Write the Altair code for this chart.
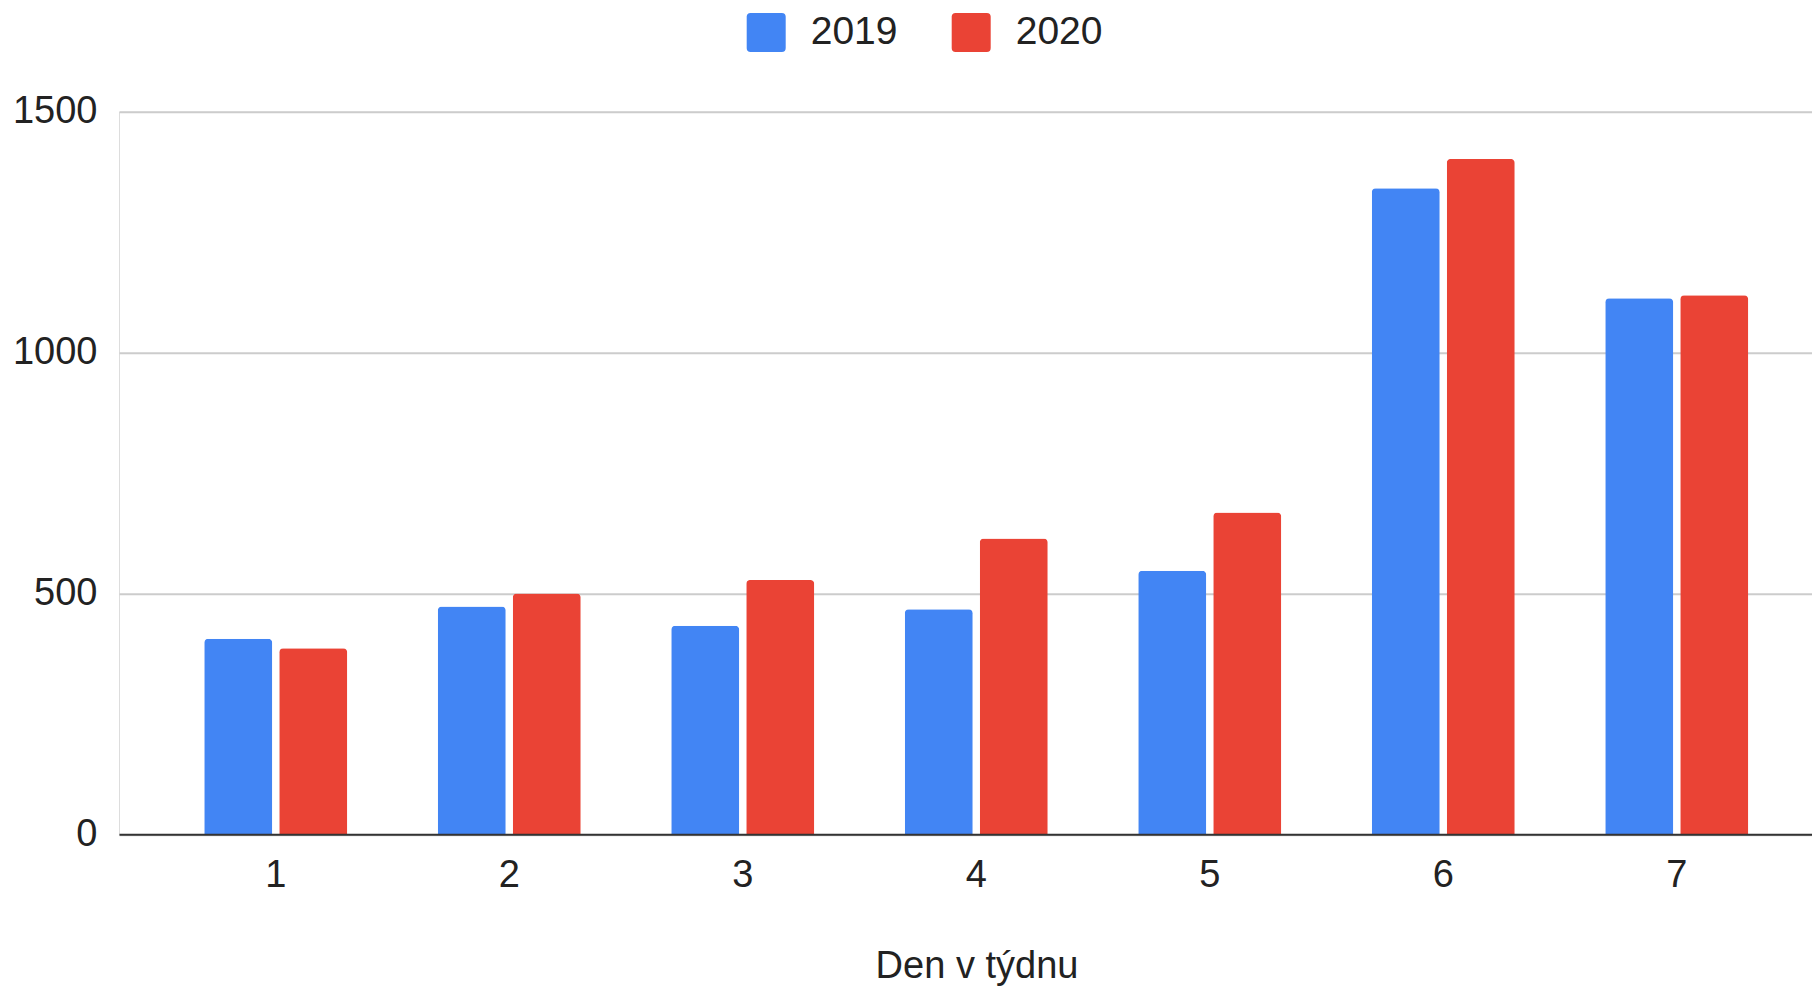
import altair as alt
import pandas as pd

days = ["1", "2", "3", "4", "5", "6", "7"]
years = ["2019", "2020"]
values_2019 = [406, 473, 433, 467, 547, 1341, 1113]
values_2020 = [386, 500, 528, 614, 668, 1402, 1119]
y_ticks = [0, 500, 1000, 1500]
colors = ["#4285F4", "#EA4335"]

rows = []
for d, a, b in zip(days, values_2019, values_2020):
    rows.append({"day": d, "year": "2019", "value": a})
    rows.append({"day": d, "year": "2020", "value": b})
df = pd.DataFrame(rows)

FONT = "Liberation Sans"
TXT = "#222222"
W = 1693
H = 722.6

rounded_square = ("M -1,-0.8 Q -1,-1 -0.8,-1 L 0.8,-1 Q 1,-1 1,-0.8 L 1,0.8 "
                  "Q 1,1 0.8,1 L -0.8,1 Q -1,1 -1,0.8 Z")

chart = alt.Chart(df).mark_bar(
    cornerRadiusTopLeft=4, cornerRadiusTopRight=4
).encode(
    x=alt.X("day:N", sort=days,
            scale=alt.Scale(paddingInner=0.38758, paddingOuter=0.31904, align=0.572),
            axis=alt.Axis(title="Den v týdnu", labelAngle=0, ticks=False, tickSize=0,
                          labelPadding=22, labelFontSize=38, labelColor=TXT, labelFont=FONT,
                          domainColor="#333333", domainWidth=2, grid=False,
                          titleFontSize=38, titleFont=FONT, titleColor=TXT,
                          titleFontWeight="normal", titleX=857.5, titleY=143.5,
                          titleAlign="center", titleBaseline="alphabetic", zindex=1)),
    xOffset=alt.XOffset("year:N", sort=years,
                        scale=alt.Scale(paddingInner=0.0933, paddingOuter=0)),
    y=alt.Y("value:Q", scale=alt.Scale(domain=[0, 1500], nice=False),
            axis=alt.Axis(title=None, values=y_ticks, format="d", grid=True,
                          gridColor="#cccccc", gridWidth=2, domain=False, ticks=False,
                          tickSize=0, labelPadding=22, labelFontSize=38, labelColor=TXT,
                          labelFont=FONT)),
    color=alt.Color("year:N", sort=years,
                    scale=alt.Scale(domain=years, range=colors),
                    legend=alt.Legend(title=None, orient="none", legendX=627.7, legendY=-99,
                                      direction="horizontal", symbolType=rounded_square,
                                      symbolSize=1521, symbolStrokeWidth=0,
                                      labelFontSize=39, labelFont=FONT, labelColor=TXT,
                                      labelOffset=25, columnPadding=54, padding=0)),
).properties(
    width=W, height=H,
    padding={"left": 111, "top": 103.7, "right": 0, "bottom": 155.7},
    autosize=alt.AutoSizeParams(type="none"),
).configure_view(stroke=None).configure(font=FONT, background="white")

chart.save("out.html", embed_options={"renderer": "svg", "actions": False})
